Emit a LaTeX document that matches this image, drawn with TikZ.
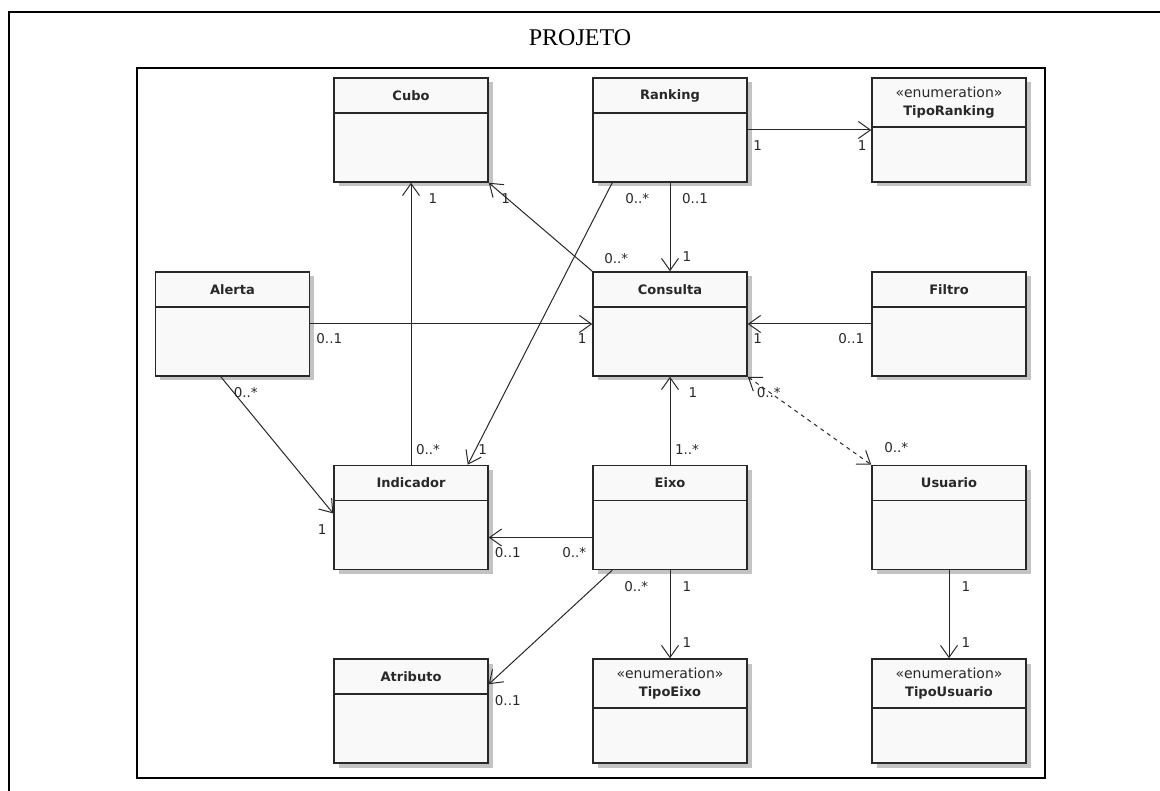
\documentclass[tikz,border=0pt]{standalone}
\usepackage{fontspec}
\setmainfont{Liberation Serif}
\newfontfamily\umlsans{DejaVu Sans}
\usetikzlibrary{arrows.meta,shadows}
\definecolor{ink}{RGB}{40,40,40}
\definecolor{boxfill}{RGB}{249,249,249}
\definecolor{shade}{RGB}{195,195,195}

\begin{document}
\begin{tikzpicture}[x=1pt,y=-1pt,
  cls/.style={draw=ink,line width=1.5pt,fill=boxfill,minimum width=154pt,minimum height=104pt,inner sep=0pt,
    drop shadow={shadow xshift=4.5pt,shadow yshift=-4.5pt,fill=shade,opacity=1}},
  hdr/.style={draw=ink,line width=1.5pt,anchor=north,minimum width=154pt,minimum height=35pt,inner sep=0pt,
    font=\umlsans\fontsize{13}{18}\selectfont\bfseries,text=ink},
  enm/.style={hdr,minimum height=49pt,align=center},
  ed/.style={-{Straight Barb[length=12pt,width=17pt]},line width=1pt,ink},
  edd/.style={{Straight Barb[length=12pt,width=17pt]}-{Straight Barb[length=12pt,width=17pt]},
    line width=1pt,ink,dash pattern=on 4pt off 4pt},
  m/.style={font=\umlsans\fontsize{13.5}{15}\selectfont,text=ink,inner sep=0pt}]
\useasboundingbox (0,0) rectangle (1160,791);
\draw[line width=2.5pt] (9,791) -- (9,12) -- (1160,12);
\node[font=\fontsize{24}{28}\selectfont] (ttl) at (580,38) {PROJETO};
\node[draw,line width=2pt,minimum width=908pt,minimum height=710pt,inner sep=0pt] (proj) at (591,423) {};
% classes
\node[cls] (cubo) at (411,130) {};
\node[hdr] (cubo-h) at (cubo.north) {Cubo};
\node[cls] (rank) at (670,130) {};
\node[hdr] (rank-h) at (rank.north) {Ranking};
\node[cls] (trk) at (949,130) {};
\node[enm] (trk-h) at (trk.north) {{\mdseries\fontsize{14}{18}\selectfont «enumeration»}\\TipoRanking};
\node[cls] (alerta) at (232.5,324) {};
\node[hdr] (alerta-h) at (alerta.north) {Alerta};
\node[cls] (cons) at (670,324) {};
\node[hdr] (cons-h) at (cons.north) {Consulta};
\node[cls] (filtro) at (949,324) {};
\node[hdr] (filtro-h) at (filtro.north) {Filtro};
\node[cls] (ind) at (411,517.5) {};
\node[hdr] (ind-h) at (ind.north) {Indicador};
\node[cls] (eixo) at (670,517.5) {};
\node[hdr] (eixo-h) at (eixo.north) {Eixo};
\node[cls] (usu) at (949,517.5) {};
\node[hdr] (usu-h) at (usu.north) {Usuario};
\node[cls] (atrib) at (411,711) {};
\node[hdr] (atrib-h) at (atrib.north) {Atributo};
\node[cls] (teixo) at (670,711) {};
\node[enm] (teixo-h) at (teixo.north) {{\mdseries\fontsize{14}{18}\selectfont «enumeration»}\\TipoEixo};
\node[cls] (tusu) at (949,711) {};
\node[enm] (tusu-h) at (tusu.north) {{\mdseries\fontsize{14}{18}\selectfont «enumeration»}\\TipoUsuario};
% associations
\draw[ed] (ind.north) -- node[m,pos=0,xshift=17pt,yshift=15pt]{0..*}
  node[m,pos=1,xshift=22pt,yshift=-16pt]{1} (cubo.south);
\draw[ed] (cons.north west) -- node[m,pos=0,xshift=24pt,yshift=13pt]{0..*}
  node[m,pos=1,xshift=17pt,yshift=-16pt]{1} (cubo.south east);
\draw[ed] (rank.south) -- node[m,pos=0,xshift=25pt,yshift=-16pt]{0..1}
  node[m,pos=1,xshift=17pt,yshift=15pt]{1} (cons.north);
\draw[ed] (rank.east) -- node[m,pos=0,xshift=10pt,yshift=-16pt]{1}
  node[m,pos=1,xshift=-9pt,yshift=-16pt]{1} (trk.west);
\draw[ed] ([xshift=20pt]rank.south west) -- node[m,pos=0,xshift=25pt,yshift=-16pt]{0..*}
  node[m,pos=1,xshift=15pt,yshift=15pt]{1} ([xshift=-21pt]ind.north east);
\draw[ed] (alerta.east) -- node[m,pos=0,xshift=19pt,yshift=-15pt]{0..1}
  node[m,pos=1,xshift=-10pt,yshift=-15pt]{1} (cons.west);
\draw[ed] (filtro.west) -- node[m,pos=0,xshift=-20pt,yshift=-15pt]{0..1}
  node[m,pos=1,xshift=10pt,yshift=-15pt]{1} (cons.east);
\draw[ed] ([xshift=66pt]alerta.south west) -- node[m,pos=0,xshift=25pt,yshift=-16pt]{0..*}
  node[m,pos=1,xshift=-11pt,yshift=-16pt]{1} ([yshift=4pt]ind.west);
\draw[ed] (eixo.north) -- node[m,pos=0,xshift=17pt,yshift=15pt]{1..*}
  node[m,pos=1,xshift=23pt,yshift=-16pt]{1} (cons.south);
\draw[edd] (cons.south east) -- node[m,pos=0,xshift=21pt,yshift=-16pt]{0..*}
  node[m,pos=1,xshift=25pt,yshift=17pt]{0..*} (usu.north west);
\draw[ed] ([yshift=-20pt]eixo.west) -- node[m,pos=0,xshift=-18pt,yshift=-15pt]{0..*}
  node[m,pos=1,xshift=19pt,yshift=-15pt]{0..1} ([yshift=-20pt]ind.east);
\draw[ed] ([xshift=20pt]eixo.south west) -- node[m,pos=0,xshift=24pt,yshift=-16pt]{0..*}
  node[m,pos=1,xshift=19pt,yshift=-16pt]{0..1} ([yshift=-26pt]atrib.north east);
\draw[ed] (eixo.south) -- node[m,pos=0,xshift=17pt,yshift=-16pt]{1}
  node[m,pos=1,xshift=17pt,yshift=16pt]{1} (teixo.north);
\draw[ed] (usu.south) -- node[m,pos=0,xshift=17pt,yshift=-16pt]{1}
  node[m,pos=1,xshift=17pt,yshift=16pt]{1} (tusu.north);
\end{tikzpicture}
\end{document}
